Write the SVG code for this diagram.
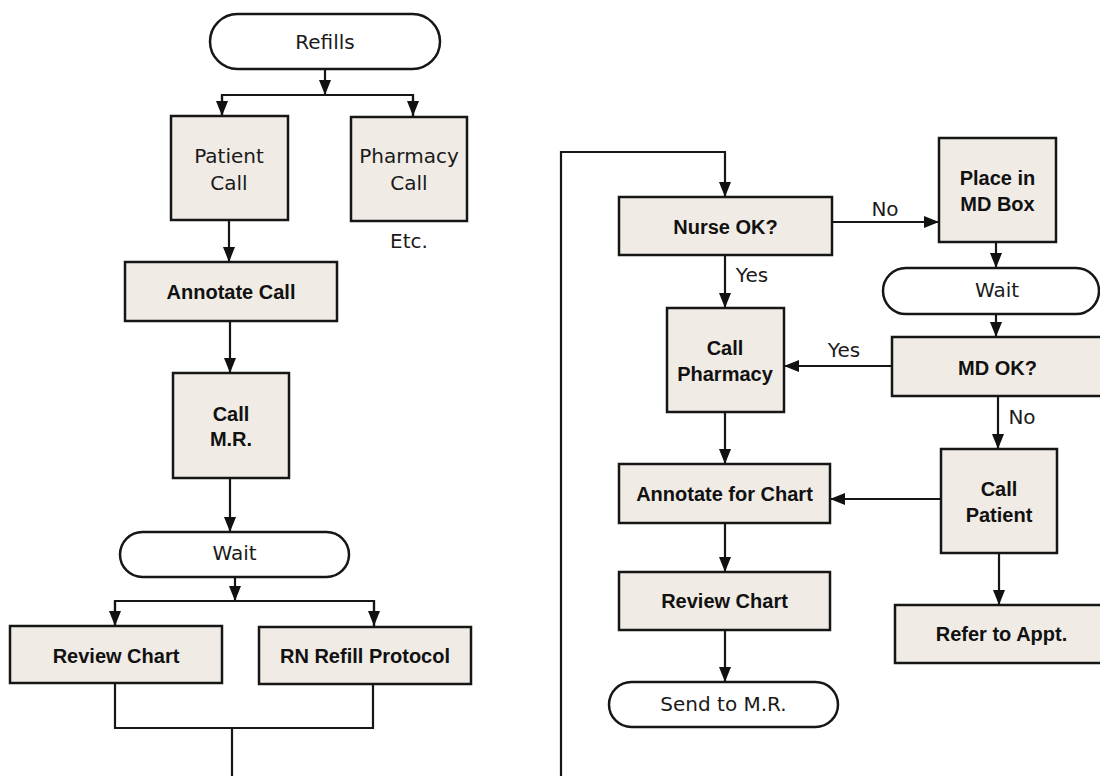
<svg xmlns="http://www.w3.org/2000/svg" width="1100" height="776" viewBox="0 0 1100 776">
<defs>
<marker id="ah" markerUnits="userSpaceOnUse" markerWidth="16" markerHeight="13" refX="15" refY="6" orient="auto">
<path d="M0,0 L15,6 L0,12 z" fill="#111"/>
</marker>
<style>
.box{fill:#f0ebe5;stroke:#161616;stroke-width:2.5}
.pill{fill:#fff;stroke:#161616;stroke-width:2.5}
.c{fill:none;stroke:#161616;stroke-width:2.2}
.a{marker-end:url(#ah)}
.r{font-family:"DejaVu Sans",sans-serif;font-size:20px;fill:#1a1a1a;text-anchor:middle}
.b{font-family:"Liberation Sans",Arial,sans-serif;font-weight:bold;font-size:20px;fill:#111;text-anchor:middle}
</style>
</defs>
<rect width="1100" height="776" fill="#fff"/>
<g id="connectors">
<line class="c a" x1="325" y1="69" x2="325" y2="95"/>
<polyline class="c" points="222,116 222,95 413,95 413,116"/>
<line class="c a" x1="222" y1="95" x2="222" y2="116"/>
<line class="c a" x1="413" y1="95" x2="413" y2="116"/>
<line class="c a" x1="229" y1="220" x2="229" y2="262"/>
<line class="c a" x1="230" y1="321" x2="230" y2="373"/>
<line class="c a" x1="230" y1="478" x2="230" y2="532"/>
<line class="c a" x1="235" y1="577" x2="235" y2="601"/>
<polyline class="c" points="115,626 115,601 374,601 374,626"/>
<line class="c a" x1="115" y1="601" x2="115" y2="626"/>
<line class="c a" x1="374" y1="601" x2="374" y2="626"/>
<polyline class="c" points="115,683 115,728 373,728 373,684"/>
<line class="c" x1="232" y1="728" x2="232" y2="776"/>
<polyline class="c a" points="561,776 561,152 725,152 725,197"/>
<line class="c a" x1="832" y1="222" x2="939" y2="222"/>
<line class="c a" x1="725" y1="255" x2="725" y2="308"/>
<line class="c a" x1="996" y1="242" x2="996" y2="268"/>
<line class="c a" x1="996" y1="314" x2="996" y2="337"/>
<line class="c a" x1="892" y1="366" x2="784" y2="366"/>
<line class="c a" x1="725" y1="412" x2="725" y2="464"/>
<line class="c a" x1="998" y1="396" x2="998" y2="449"/>
<line class="c a" x1="941" y1="499" x2="830" y2="499"/>
<line class="c a" x1="999" y1="553" x2="999" y2="605"/>
<line class="c a" x1="725" y1="523" x2="725" y2="572"/>
<line class="c a" x1="725" y1="630" x2="725" y2="682"/>
<text class="r" x="885" y="216">No</text>
<text class="r" x="752" y="282">Yes</text>
<text class="r" x="844" y="357">Yes</text>
<text class="r" x="1022" y="424">No</text>
</g>
<g id="refills"><rect class="pill" x="210" y="14" width="230" height="55" rx="27.5"/><text class="r" x="325" y="48.5">Refills</text></g>
<g id="patient-call"><rect class="box" x="171" y="116" width="117" height="104"/><text class="r" x="229" y="163">Patient</text><text class="r" x="229" y="190">Call</text></g>
<g id="pharmacy-call"><rect class="box" x="351" y="117" width="116" height="104"/><text class="r" x="409" y="163">Pharmacy</text><text class="r" x="409" y="190">Call</text><text class="r" x="409" y="248">Etc.</text></g>
<g id="annotate-call"><rect class="box" x="125" y="262" width="212" height="59"/><text class="b" x="231" y="299">Annotate Call</text></g>
<g id="call-mr"><rect class="box" x="173" y="373" width="116" height="105"/><text class="b" x="231" y="420.5">Call</text><text class="b" x="231" y="446">M.R.</text></g>
<g id="wait-left"><rect class="pill" x="120" y="532" width="229" height="45" rx="22.5"/><text class="r" x="234.5" y="560">Wait</text></g>
<g id="review-chart-left"><rect class="box" x="10" y="626" width="212" height="57"/><text class="b" x="116" y="662.5">Review Chart</text></g>
<g id="rn-refill-protocol"><rect class="box" x="259" y="627" width="212" height="57"/><text class="b" x="365" y="662.5">RN Refill Protocol</text></g>
<g id="nurse-ok"><rect class="box" x="619" y="197" width="213" height="58"/><text class="b" x="725.5" y="234">Nurse OK?</text></g>
<g id="place-md-box"><rect class="box" x="939" y="138" width="117" height="104"/><text class="b" x="997.5" y="185">Place in</text><text class="b" x="997.5" y="210.5">MD Box</text></g>
<g id="wait-right"><rect class="pill" x="883" y="268" width="216" height="46" rx="23"/><text class="r" x="997" y="296.5">Wait</text></g>
<g id="md-ok"><rect class="box" x="892" y="337" width="212" height="59"/><text class="b" x="997.5" y="375">MD OK?</text></g>
<g id="call-pharmacy"><rect class="box" x="667" y="308" width="117" height="104"/><text class="b" x="725" y="355">Call</text><text class="b" x="725" y="380.5">Pharmacy</text></g>
<g id="annotate-chart"><rect class="box" x="619" y="464" width="211" height="59"/><text class="b" x="724.5" y="501">Annotate for Chart</text></g>
<g id="call-patient"><rect class="box" x="941" y="449" width="116" height="104"/><text class="b" x="999" y="496">Call</text><text class="b" x="999" y="521.5">Patient</text></g>
<g id="review-chart-right"><rect class="box" x="619" y="572" width="211" height="58"/><text class="b" x="724.5" y="608">Review Chart</text></g>
<g id="refer-appt"><rect class="box" x="895" y="605" width="213" height="58"/><text class="b" x="1001.5" y="640.5">Refer to Appt.</text></g>
<g id="send-mr"><rect class="pill" x="609" y="682" width="229" height="45" rx="22.5"/><text class="r" x="723.5" y="710.5">Send to M.R.</text></g>
</svg>
